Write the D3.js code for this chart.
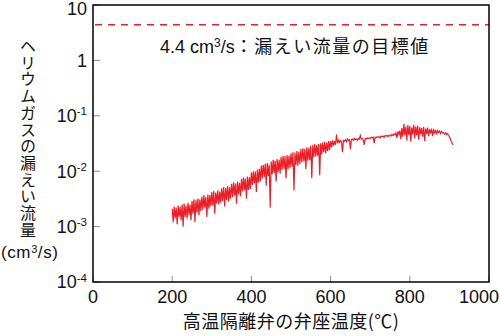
<!DOCTYPE html>
<html><head><meta charset="utf-8">
<script src="https://cdn.jsdelivr.net/npm/d3@7"></script>
<style>body{margin:0;background:#fff}svg{display:block}</style>
</head><body>
<svg id="c" width="500" height="336"></svg>
<script>
// ---- data ----
const temps = [
200,202.5,205,207.5,210,212.5,215,217.5,220,222.5,
225,227.5,230,232.5,235,237.5,240,242.5,245,247.5,
250,252.5,255,257.5,260,262.5,265,267.5,270,272.5,
275,277.5,280,282.5,285,287.5,290,292.5,295,297.5,
300,302.5,305,307.5,310,312.5,315,317.5,320,322.5,
325,327.5,330,332.5,335,337.5,340,342.5,345,347.5,
350,352.5,355,357.5,360,362.5,365,367.5,370,372.5,
375,377.5,380,382.5,385,387.5,390,392.5,395,397.5,
400,402.5,405,407.5,410,412.5,415,417.5,420,422.5,
425,427.5,430,432.5,435,437.5,440,442.5,445,447.5,
450,452.5,455,457.5,460,462.5,465,467.5,470,472.5,
475,477.5,480,482.5,485,487.5,490,492.5,495,497.5,
500,502.5,505,507.5,510,512.5,515,517.5,520,522.5,
525,527.5,530,532.5,535,537.5,540,542.5,545,547.5,
550,552.5,555,557.5,560,562.5,565,567.5,570,572.5,
575,577.5,580,582.5,585,587.5,590,592.5,595,597.5,
600,602.5,605,607.5,610,612.5,615,617.5,620,622.5,
625,627.5,630,632.5,635,637.5,640,642.5,645,647.5,
650,652.5,655,657.5,660,662.5,665,667.5,670,672.5,
675,677.5,680,682.5,685,687.5,690,692.5,695,697.5,
700,702.5,705,707.5,710,712.5,715,717.5,720,722.5,
725,727.5,730,732.5,735,737.5,740,742.5,745,747.5,
750,752.5,755,757.5,760,762.5,765,767.5,770,772.5,
775,777.5,780,782.5,785,787.5,790,792.5,795,797.5,
800,802.5,805,807.5,810,812.5,815,817.5,820,822.5,
825,827.5,830,832.5,835,837.5,840,842.5,845,847.5,
850,852.5,855,857.5,860,862.5,865,867.5,870,872.5,
875,877.5,880,882.5,885,887.5,890,892.5,895,897.5,
900,902.5,905,907.5,910];
const leak = [
2.1e-3,1.2e-3,2.3e-3,1.4e-3,2.2e-3,1.1e-3,2.4e-3,1.5e-3,2.3e-3,1.3e-3,
2.5e-3,1.0e-3,2.6e-3,1.5e-3,2.4e-3,1.4e-3,2.7e-3,1.6e-3,2.5e-3,1.3e-3,
2.9e-3,1.7e-3,3.1e-3,1.2e-3,3.0e-3,1.8e-3,3.2e-3,1.6e-3,3.1e-3,1.9e-3,
3.5e-3,2.0e-3,3.7e-3,2.2e-3,3.4e-3,1.5e-3,3.8e-3,2.1e-3,3.7e-3,2.3e-3,
4.2e-3,2.4e-3,4.4e-3,1.7e-3,4.1e-3,2.6e-3,4.5e-3,2.5e-3,4.3e-3,2.7e-3,
4.9e-3,2.9e-3,5.2e-3,2.3e-3,5.0e-3,3.0e-3,5.4e-3,2.8e-3,5.1e-3,3.2e-3,
5.9e-3,3.4e-3,6.3e-3,3.6e-3,6.0e-3,2.6e-3,6.5e-3,3.8e-3,6.2e-3,3.5e-3,
7.3e-3,4.3e-3,7.7e-3,4.5e-3,7.4e-3,3.2e-3,8.0e-3,4.6e-3,7.8e-3,4.8e-3,
9.6e-3,5.6e-3,1.0e-2,6.0e-3,9.9e-3,4.2e-3,1.06e-2,6.2e-3,1.1e-2,6.5e-3,
1.26e-2,7.4e-3,1.3e-2,7.8e-3,1.36e-2,5.5e-3,1.4e-2,8.2e-3,1.3e-2,2.2e-3,
1.5e-2,8.8e-3,1.6e-2,9.2e-3,1.55e-2,6.5e-3,1.65e-2,9.6e-3,1.6e-2,9.0e-3,
1.8e-2,1.05e-2,1.9e-2,1.1e-2,1.85e-2,7.5e-3,1.95e-2,1.1e-2,1.9e-2,1.15e-2,
2.1e-2,1.2e-2,2.2e-2,4.5e-3,2.15e-2,1.3e-2,2.3e-2,1.25e-2,2.25e-2,1.35e-2,
2.5e-2,1.45e-2,2.6e-2,1.5e-2,2.55e-2,1.1e-2,2.7e-2,1.55e-2,2.65e-2,1.6e-2,
2.9e-2,7.5e-3,3.0e-2,1.8e-2,3.1e-2,1.85e-2,2.95e-2,1.9e-2,3.1e-2,8.5e-3,
3.2e-2,2.0e-2,3.3e-2,2.2e-2,3.4e-2,2.1e-2,3.3e-2,2.3e-2,3.5e-2,2.4e-2,
3.5e-2,2.7e-2,3.6e-2,2.9e-2,3.5e-2,3.0e-2,4.6e-2,3.2e-2,3.6e-2,3.3e-2,
3.6e-2,3.4e-2,2.2e-2,3.6e-2,3.5e-2,3.7e-2,3.4e-2,3.8e-2,3.6e-2,3.7e-2,
2.5e-2,3.7e-2,3.8e-2,3.6e-2,3.9e-2,3.7e-2,3.8e-2,3.6e-2,3.9e-2,3.8e-2,
4.4e-2,3.8e-2,3.9e-2,3.7e-2,3.0e-2,3.9e-2,3.8e-2,4.0e-2,3.9e-2,4.0e-2,
3.9e-2,4.1e-2,4.0e-2,4.1e-2,3.2e-2,4.1e-2,4.0e-2,4.2e-2,4.1e-2,4.2e-2,
4.0e-2,4.3e-2,4.2e-2,4.3e-2,4.1e-2,4.4e-2,4.3e-2,4.4e-2,4.2e-2,4.5e-2,
4.5e-2,4.3e-2,4.6e-2,4.4e-2,4.7e-2,4.5e-2,4.9e-2,4.0e-2,5.2e-2,4.6e-2,
5.4e-2,3.8e-2,6.0e-2,4.2e-2,7.2e-2,4.4e-2,6.3e-2,3.6e-2,6.8e-2,4.5e-2,
6.5e-2,3.4e-2,6.2e-2,4.6e-2,6.9e-2,3.9e-2,6.4e-2,4.4e-2,6.6e-2,3.7e-2,
6.2e-2,4.6e-2,6.0e-2,4.2e-2,6.3e-2,3.5e-2,5.9e-2,4.7e-2,6.1e-2,4.3e-2,
5.7e-2,4.8e-2,5.9e-2,4.3e-2,5.5e-2,4.9e-2,5.6e-2,4.6e-2,5.4e-2,5.0e-2,
5.3e-2,4.8e-2,5.2e-2,4.9e-2,5.0e-2,4.7e-2,4.9e-2,4.6e-2,4.8e-2,4.5e-2,
4.2e-2,3.8e-2,3.4e-2,3.1e-2,3.0e-2];
const targetValue = 4.4;
const xTicks = [0,200,400,600,800,1000];
const yTicks = [1e-4,1e-3,1e-2,1e-1,1,10];
const yTickBase = ["10","10","10","10","1","10"];
const yTickExp  = ["-4","-3","-2","-1","",""];
const yTitle = "ヘリウムガスの漏えい流量";
const xTitle = "高温隔離弁の弁座温度(℃)";

// ---- layout ----
const L = 93, R = 489, T = 5, B = 282;
const svg = d3.select("#c");
const x = d3.scaleLinear().domain([0,1000]).range([L,R]);
const y = d3.scaleLog().domain([1e-4,10]).range([B,T]);
const numFont = "'Liberation Sans', Arial, sans-serif";
const jpFont = "'Noto Sans CJK JP', sans-serif";
const red = "#ea1f29";

svg.append("defs").append("clipPath").attr("id","clip")
  .append("rect").attr("x",L).attr("y",T).attr("width",R-L).attr("height",B-T);

// ticks (inward)
svg.append("g").selectAll("line").data(yTicks).join("line")
  .attr("x1",L).attr("x2",L+7).attr("y1",d=>y(d)).attr("y2",d=>y(d))
  .attr("stroke","#888").attr("stroke-width",1);
svg.append("g").selectAll("line").data(xTicks).join("line")
  .attr("x1",d=>x(d)).attr("x2",d=>x(d)).attr("y1",B).attr("y2",B-6)
  .attr("stroke","#888").attr("stroke-width",1);

// target dashed line
svg.append("line").attr("x1",L+2).attr("x2",R).attr("y1",y(targetValue)).attr("y2",y(targetValue))
  .attr("stroke",red).attr("stroke-width",1.4).attr("stroke-dasharray","7,6");

// data line
const line = d3.line().x((d,i)=>x(temps[i])).y(d=>y(d));
svg.append("path").datum(leak).attr("d",line).attr("clip-path","url(#clip)")
  .attr("fill","none").attr("stroke",red).attr("stroke-width",1.2).attr("stroke-linejoin","miter");

// frame
svg.append("rect").attr("x",L).attr("y",T).attr("width",R-L).attr("height",B-T)
  .attr("fill","none").attr("stroke","#000").attr("stroke-width",1.5);

// y tick labels
const yl = svg.append("g").selectAll("text").data(yTicks).join("text")
  .attr("x",87).attr("y",d=>Math.max(y(d),9)).attr("dy","0.36em").attr("text-anchor","end")
  .attr("font-family",numFont).attr("font-size",18).attr("fill","#111");
yl.each(function(d,i){
  const t = d3.select(this);
  t.append("tspan").text(yTickBase[i]);
  if (yTickExp[i]) t.append("tspan").attr("font-size",11.5).attr("dy","-0.6em").text(yTickExp[i]);
});

// x tick labels
svg.append("g").selectAll("text").data(xTicks).join("text")
  .attr("x",d=>Math.min(x(d), 499 - 20)).attr("y",303).attr("text-anchor","middle")
  .attr("font-family",numFont).attr("font-size",18).attr("fill","#111").text(d=>d);

// x title
svg.append("text").attr("x",(L+R)/2).attr("y",328).attr("text-anchor","middle")
  .attr("font-family",jpFont).attr("font-size",18).attr("letter-spacing",0.5).attr("fill","#111").text(xTitle);

// y title (vertical, single text)
svg.append("text").attr("x",28).attr("y",38)
  .style("writing-mode","vertical-rl").style("text-orientation","upright")
  .attr("font-family",jpFont).attr("font-size",16).attr("letter-spacing",0.7)
  .attr("fill","#111").text(yTitle);
const u = svg.append("text").attr("x",1).attr("y",258).attr("text-anchor","start")
  .attr("font-family",numFont).attr("font-size",17).attr("letter-spacing",0.6).attr("fill","#111");
u.append("tspan").text("(cm");
u.append("tspan").attr("font-size",11).attr("dy","-0.5em").text("3");
u.append("tspan").attr("dy","0.32em").text("/s)");

// annotation
const a = svg.append("text").attr("x",160).attr("y",53)
  .attr("font-family",numFont).attr("font-size",18).attr("fill","#111");
a.append("tspan").text(targetValue + " cm");
a.append("tspan").attr("font-size",12).attr("dy","-0.5em").text("3");
a.append("tspan").attr("dy","0.34em").text("/s");
a.append("tspan").attr("font-family",jpFont).attr("letter-spacing",1.5).text("：漏えい流量の目標値");
</script>
</body></html>
